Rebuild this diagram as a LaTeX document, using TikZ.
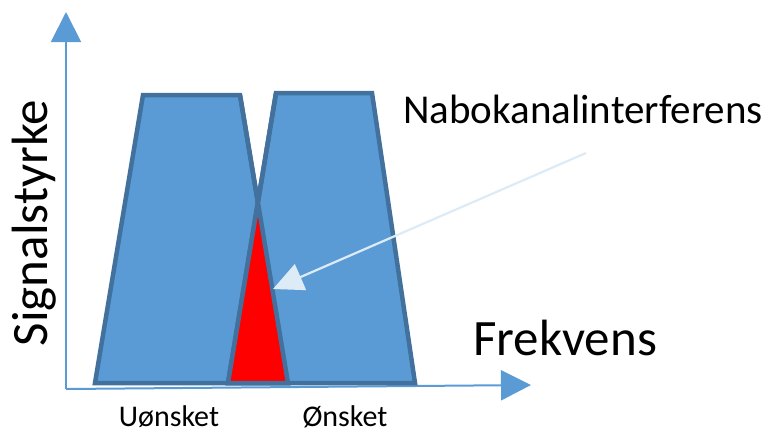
\documentclass[tikz,border=0pt]{standalone}
\usepackage{fontspec}
\setmainfont{Carlito}
\usetikzlibrary{arrows.meta}
\definecolor{axisblue}{HTML}{5B9BD5}
\definecolor{bandfill}{HTML}{5B9BD5}
\definecolor{bandline}{HTML}{41719C}
\definecolor{pointer}{HTML}{DDEBF7}
\tikzset{
	axis/.style={axisblue,line width=2pt,-{Triangle[length=30pt,width=30pt]}},
	band/.style={fill=bandfill,draw=bandline,line width=4.5pt,line join=miter},
	pointerline/.style={pointer,line width=2.2pt,-{Triangle[length=30pt,width=28pt]}},
	big/.style={font=\fontsize{51}{51}\selectfont},
	mid/.style={font=\fontsize{41}{41}\selectfont},
	small/.style={font=\fontsize{30}{30}\selectfont}
}

\begin{document}
\begin{tikzpicture}[x=1pt,y=-1pt]
	\useasboundingbox (0,0) rectangle (769,432);
	% axes
	\coordinate (o) at (66,389);
	\coordinate (ytop) at (66,12);
	\coordinate (xend) at (531,385);
	\draw[axis] (o) -- (ytop);
	\draw[axis] (o) -- (xend);
	% the two channels
	\coordinate (u1) at (95,383);
	\coordinate (u2) at (143,95);
	\coordinate (u3) at (240,95);
	\coordinate (u4) at (288,383);
	\coordinate (w1) at (228,383);
	\coordinate (w2) at (276,93);
	\coordinate (w3) at (372,93);
	\coordinate (w4) at (415,383);
	\coordinate (cross) at (intersection of u3--u4 and w1--w2);
	\draw[band] (u1)--(u2)--(u3)--(u4)--cycle;
	\draw[band] (w1)--(w2)--(w3)--(w4)--cycle;
	\fill[red] (cross)--(u4)--(w1)--cycle;
	\draw[band,fill=none] (u3)--(u4)--(w1)--(w2);
	% labels
	\node[big,rotate=90,anchor=base] (ylabel) at (47,223) {Signalstyrke};
	\node[big,anchor=base] (xlabel) at (565,355) {Frekvens};
	\node[mid,anchor=base] (note) at (583,123) {Nabokanalinterferens};
	\node[small,anchor=base] (unwanted) at (169,426) {Uønsket};
	\node[small,anchor=base] (wanted) at (345,426) {Ønsket};
	% pointer
	\coordinate (pstart) at (586,153);
	\coordinate (ptip) at (273,289);
	\draw[pointerline] (pstart) -- (ptip);
\end{tikzpicture}
\end{document}
